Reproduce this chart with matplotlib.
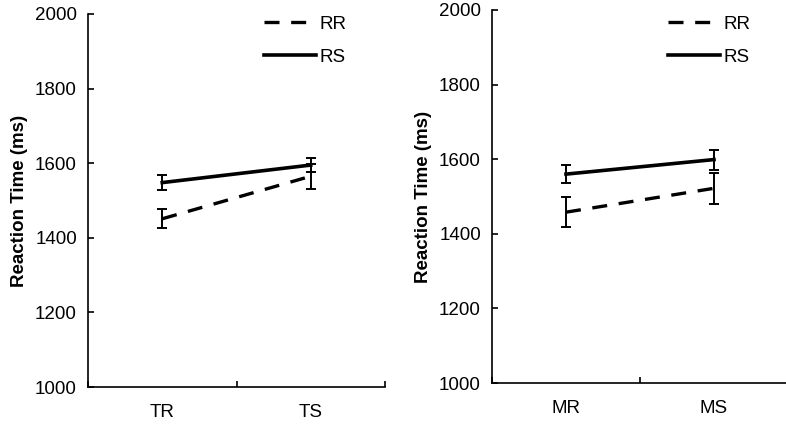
import matplotlib.pyplot as plt
from matplotlib.ticker import FixedLocator, NullFormatter, FixedFormatter

plt.rcParams['font.family'] = ['Liberation Sans', 'DejaVu Sans']

left_cats = ['TR', 'TS']
left_rr = [1451, 1565]
left_rr_err = [25, 33]
left_rs = [1548, 1595]
left_rs_err = [21, 18]

right_cats = ['MR', 'MS']
right_rr = [1458, 1522]
right_rr_err = [40, 41]
right_rs = [1560, 1599]
right_rs_err = [24, 27]

fig = plt.figure(figsize=(7.86, 4.24), dpi=100)
W, H = 786, 424


def panel(rect, cats, rr, rr_err, rs, rs_err, legend_anchor):
    ax = fig.add_axes(rect)
    x = [0.5, 1.5]
    ax.errorbar(x, rr, yerr=rr_err, color='black', lw=2.4, dashes=(4.5, 3.5),
                ecolor='black', elinewidth=1.4, capsize=3.5, capthick=1.4, label='RR')
    ax.errorbar(x, rs, yerr=rs_err, color='black', lw=2.6,
                ecolor='black', elinewidth=1.4, capsize=3.5, capthick=1.4, label='RS')
    ax.set_xlim(0, 2)
    ax.set_ylim(1000, 2000)
    ax.set_yticks([1000, 1200, 1400, 1600, 1800, 2000])
    ax.xaxis.set_major_locator(FixedLocator([0, 1, 2]))
    ax.xaxis.set_major_formatter(NullFormatter())
    ax.xaxis.set_minor_locator(FixedLocator(x))
    ax.xaxis.set_minor_formatter(FixedFormatter(cats))
    ax.tick_params(axis='x', which='major', direction='in', length=4, width=1.2)
    ax.tick_params(axis='x', which='minor', length=0, pad=12, labelsize=13.5)
    ax.tick_params(axis='y', direction='in', length=4, width=1.2, labelsize=13.5, pad=8)
    for s in ['top', 'right']:
        ax.spines[s].set_visible(False)
    for s in ['left', 'bottom']:
        ax.spines[s].set_linewidth(1.2)
    ax.set_ylabel('Reaction Time (ms)', fontsize=13.5, fontweight='bold', labelpad=5)
    h, l = ax.get_legend_handles_labels()
    h = [hh[0] for hh in h]
    ax.legend(h, l, loc='upper left', bbox_to_anchor=legend_anchor, frameon=False,
              fontsize=13.5, handlelength=2.8, handletextpad=0.2, labelspacing=0.85,
              borderaxespad=0)
    return ax


panel([88 / W, 37 / H, 297 / W, 373 / H], left_cats, left_rr, left_rr_err,
      left_rs, left_rs_err, ((256 - 88) / 297, (387 - 8) / 373))
panel([492 / W, 41 / H, 296 / W, 373 / H], right_cats, right_rr, right_rr_err,
      right_rs, right_rs_err, ((660 - 492) / 296, (383 - 8) / 373))

fig.savefig('out.png', dpi=100)
